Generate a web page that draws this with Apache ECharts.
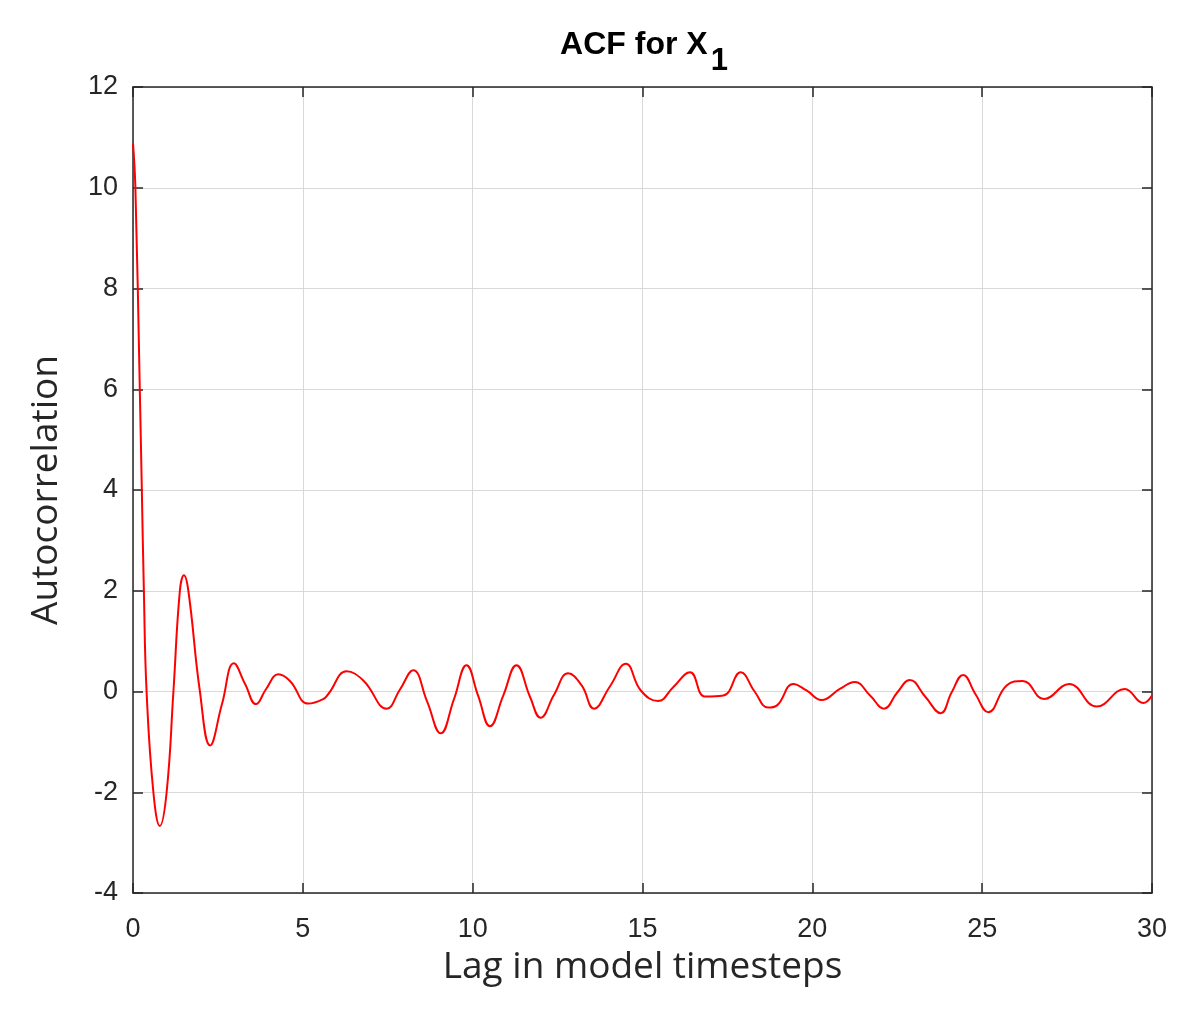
<!DOCTYPE html>
<html>
<head>
<meta charset="utf-8">
<script src="https://cdn.jsdelivr.net/npm/echarts@6/dist/echarts.min.js"></script>
<style>
  html, body { margin: 0; padding: 0; background: #fff; }
  #chart { width: 1200px; height: 1027px; }
</style>
</head>
<body>
<div id="chart"></div>
<script>
// 数据: lag (model timesteps) 和 autocorrelation
var lagSteps = [
  0, 0.07, 0.2, 0.26, 0.32, 0.40, 0.60, 0.79, 0.99, 1.19, 1.38, 1.50, 1.63, 1.97,
  2.27, 2.62, 2.97, 3.30, 3.62, 3.92, 4.28, 4.62, 5.16, 5.60, 5.75, 6.29, 6.78,
  7.47, 7.86, 8.25, 8.66, 9.06, 9.45, 9.82, 10.16, 10.51, 10.90, 11.29, 11.69,
  12.00, 12.40, 12.81, 13.21, 13.57, 14.04, 14.51, 14.95, 15.46, 15.91, 16.40,
  16.84, 17.38, 17.89, 18.30, 18.70, 18.95, 19.44, 19.83, 20.27, 20.81, 21.25,
  21.70, 22.11, 22.50, 22.87, 23.32, 23.78, 24.10, 24.44, 24.80, 25.18, 25.72,
  26.19, 26.82, 27.56, 28.37, 29.20, 29.74, 30.0
]
var acfValues = [
  10.88, 10.0, 6.0, 4.0, 2.0, 0.0, -2.0, -2.67, -2.0, 0.0, 2.0, 2.31, 2.0, 0.0,
  -1.07, -0.25, 0.56, 0.15, -0.25, 0.05, 0.34, 0.21, -0.24, -0.15, -0.05, 0.40, 0.22,
  -0.34, 0.04, 0.42, -0.20, -0.83, -0.15, 0.52, -0.08, -0.69, -0.08, 0.52, -0.11,
  -0.52, -0.06, 0.36, 0.12, -0.34, 0.10, 0.55, 0.02, -0.19, 0.09, 0.38,
  -0.10, -0.08, 0.38, 0.00, -0.32, -0.28, 0.15, 0.02, -0.17, 0.05, 0.19,
  -0.08, -0.34, -0.02, 0.23, -0.10, -0.43, -0.02, 0.33, -0.05, -0.41, 0.12,
  0.21, -0.15, 0.15, -0.30, 0.05, -0.23, -0.08
]
var xTicks = { min: 0, max: 30, interval: 5 }
var yTicks = { min: -4, max: 12, interval: 2 }

var dataset = []
for (var i = 0; i < lagSteps.length; i++) {
  dataset.push([lagSteps[i], acfValues[i]])
}

var dom = document.getElementById('chart')
var myChart = echarts.init(dom)

var axisColor = '#262626'
var tickFont = { fontFamily: 'Liberation Sans, Arial, sans-serif', fontSize: 27, color: axisColor }

var option = {
  animation: false,
  backgroundColor: '#fff',
  title: {
    text: '{a|ACF for X}{b|1}',
    left: 639,
    top: 24,
    textAlign: 'center',
    textStyle: {
      rich: {
        a: { fontFamily: 'Liberation Sans, Arial, sans-serif', fontWeight: 'bold', fontSize: 32, lineHeight: 36, color: '#000', verticalAlign: 'top' },
        b: { fontFamily: 'Liberation Sans, Arial, sans-serif', fontWeight: 'bold', fontSize: 31, lineHeight: 36, color: '#000', verticalAlign: 'top', padding: [17, 0, 0, 3] }
      }
    }
  },
  grid: { left: 133, right: 48, top: 87, bottom: 134 },
  xAxis: [
    {
      type: 'value',
      min: xTicks.min, max: xTicks.max, interval: xTicks.interval,
      name: 'Lag in model timesteps',
      nameLocation: 'middle',
      nameGap: 56,
      nameTextStyle: { fontFamily: 'Open Sans, sans-serif', fontSize: 37, color: axisColor },
      axisLine: { onZero: false, lineStyle: { color: axisColor, width: 1.5 } },
      axisTick: { inside: true, length: 10, lineStyle: { color: axisColor, width: 1.5 } },
      axisLabel: Object.assign({ margin: 23 }, tickFont),
      splitLine: { show: true, lineStyle: { color: '#d9d9d9', width: 1 } }
    },
    {
      type: 'value',
      position: 'top',
      min: xTicks.min, max: xTicks.max, interval: xTicks.interval,
      axisLine: { onZero: false, lineStyle: { color: axisColor, width: 1.5 } },
      axisTick: { inside: true, length: 10, lineStyle: { color: axisColor, width: 1.5 } },
      axisLabel: { show: false },
      splitLine: { show: false }
    }
  ],
  yAxis: [
    {
      type: 'value',
      min: yTicks.min, max: yTicks.max, interval: yTicks.interval,
      name: 'Autocorrelation',
      nameLocation: 'middle',
      nameGap: 68,
      nameTextStyle: { fontFamily: 'Open Sans, sans-serif', fontSize: 37, color: axisColor },
      axisLine: { show: true, onZero: false, lineStyle: { color: axisColor, width: 1.5 } },
      axisTick: { show: true, inside: true, length: 10, lineStyle: { color: axisColor, width: 1.5 } },
      axisLabel: Object.assign({ margin: 15 }, tickFont),
      splitLine: { show: true, lineStyle: { color: '#d9d9d9', width: 1 } }
    },
    {
      type: 'value',
      position: 'right',
      min: yTicks.min, max: yTicks.max, interval: yTicks.interval,
      axisLine: { show: true, onZero: false, lineStyle: { color: axisColor, width: 1.5 } },
      axisTick: { show: true, inside: true, length: 10, lineStyle: { color: axisColor, width: 1.5 } },
      axisLabel: { show: false },
      splitLine: { show: false }
    }
  ],
  series: [
    {
      type: 'line',
      data: dataset,
      smooth: 0.45,
      showSymbol: false,
      lineStyle: { color: '#ff0000', width: 2 },
      itemStyle: { color: '#ff0000' }
    }
  ]
}

myChart.setOption(option)
window.addEventListener('resize', myChart.resize)
</script>
</body>
</html>
